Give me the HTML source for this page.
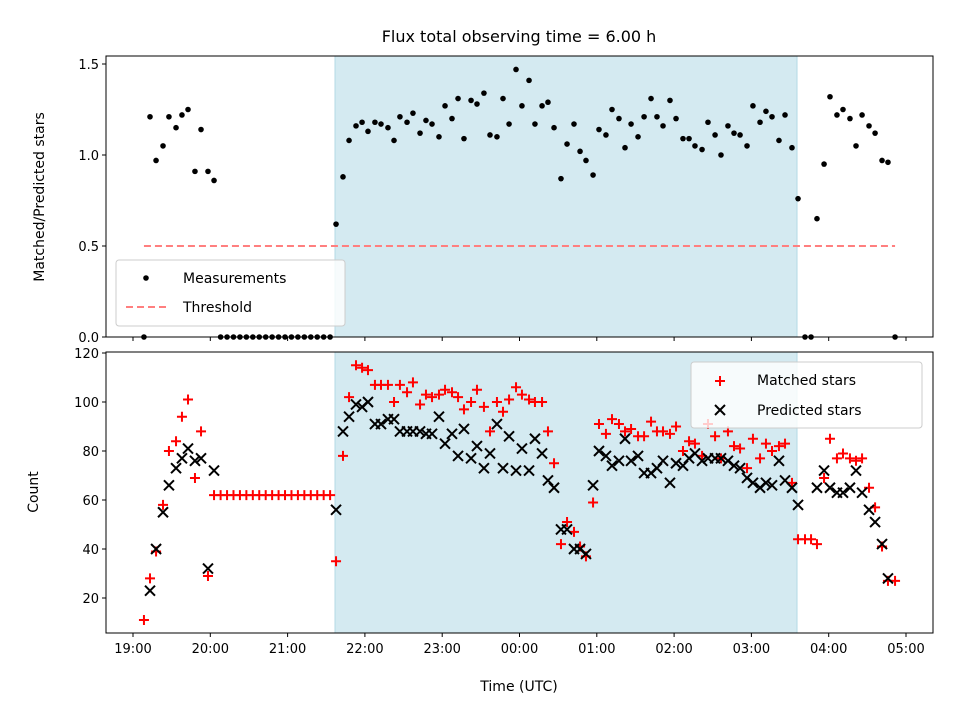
<!DOCTYPE html>
<html><head><meta charset="utf-8"><style>
body{margin:0;background:#fff;}
svg{display:block;font-family:"DejaVu Sans","Liberation Sans",sans-serif;}
</style></head><body>
<svg id="chart" width="960" height="720"></svg>
<script>
const minutes=[8.5,13.2,17.9,23.3,27.9,33.4,38.0,42.7,48.1,52.8,58.2,62.9,
68,73,78,83,88,93,98,103,108,113,118,123,128,133,138,143,148,153,
157.6,163.0,167.7,173.1,177.8,182.4,187.8,192.5,197.9,202.6,207.2,212.7,217.3,222.8,227.4,232.1,237.5,242.2,247.6,252.3,256.9,262.4,267.0,272.4,277.1,282.5,287.2,291.9,297.3,301.9,307.4,312.0,317.5,322.1,326.8,332.2,336.9,342.3,347.0,351.6,357.1,361.7,367.1,371.8,377.2,381.9,386.6,392.0,396.7,402.1,406.7,411.4,416.8,421.5,426.9,431.6,436.2,441.7,446.3,451.8,456.4,461.8,466.5,471.2,476.6,481.2,486.7,491.3,496.0,501.4,506.1,511.5,516.2,521.6,526.3,530.9,536.4,541.0,546.4,551.1,556.5,561.2,565.9,571.3,576.0,581.4,586.0,591.5];
const ratio=[0,1.21,0.97,1.05,1.21,1.15,1.22,1.25,0.91,1.14,0.91,0.86,
0,0,0,0,0,0,0,0,0,0,0,0,0,0,0,0,0,0,
0.62,0.88,1.08,1.16,1.18,1.13,1.18,1.17,1.15,1.08,1.21,1.18,1.23,1.12,1.19,1.17,1.10,1.27,1.20,1.31,1.09,1.30,1.28,1.34,1.11,1.10,1.31,1.17,1.47,1.27,1.41,1.17,1.27,1.29,1.15,0.87,1.06,1.17,1.02,0.97,0.89,1.14,1.11,1.25,1.20,1.04,1.17,1.10,1.21,1.31,1.21,1.16,1.30,1.20,1.09,1.09,1.05,1.03,1.18,1.11,1.00,1.16,1.12,1.11,1.05,1.27,1.18,1.24,1.21,1.08,1.22,1.04,0.76,0,0,0.65,0.95,1.32,1.22,1.25,1.20,1.05,1.22,1.16,1.12,0.97,0.96,0];
const matched=[11,28,39,58,80,84,94,101,69,88,29,62,
62,62,62,62,62,62,62,62,62,62,62,62,62,62,62,62,62,62,
35,78,102,115,114,113,107,107,107,100,107,104,108,99,103,102,103,105,104,102,97,100,105,98,88,100,96,101,106,103,101,100,100,88,75,42,51,47,41,37,59,91,87,93,91,88,89,86,86,92,88,88,87,90,80,84,83,78,91,86,77,88,82,81,73,85,77,83,80,82,83,67,44,44,44,42,69,85,77,79,77,76,77,65,57,41,27,27];
const predicted=[null,23,40,55,66,73,77,81,76,77,32,72,
null,null,null,null,null,null,null,null,null,null,null,null,null,null,null,null,null,null,
56,88,94,99,98,100,91,91,93,93,88,88,88,88,87,87,94,83,87,78,89,77,82,73,79,91,73,86,72,81,72,85,79,68,65,48,48,40,40,38,66,80,78,74,76,85,76,78,71,71,73,76,67,75,74,77,79,76,77,77,77,76,74,73,69,67,65,67,66,76,68,65,58,null,null,65,72,65,63,63,65,72,63,56,51,42,28,null];
const xTickLabels=["19:00","20:00","21:00","22:00","23:00","00:00","01:00","02:00","03:00","04:00","05:00"];
const xTickMinutes=[0,60,120,180,240,300,360,420,480,540,600];
const topTicks=[0,0.5,1.0,1.5];
const topTickLabels=["0.0","0.5","1.0","1.5"];
const botTicks=[20,40,60,80,100,120];
const threshold=[0.5];
const darkWindow=[156.8,515.4];

const NS="http://www.w3.org/2000/svg";
const svg=document.getElementById('chart');
function mk(tag,attrs,parent){const e=document.createElementNS(NS,tag);for(const k in attrs)e.setAttribute(k,attrs[k]);(parent||svg).appendChild(e);return e;}
const L=106,R=933,T1=56,B1=337,T2=352,B2=633;
const X=m=>133+m*77.3/60;
const Y1=v=>337-v*182;
const Y2=v=>598-(v-20)*2.45;

// title
let t=mk('text',{x:519,y:42,'text-anchor':'middle','font-size':16});t.textContent='Flux total observing time = 6.00 h';



function panel(top,bot,name){
  const g=mk('g',{});
  
  
  const sh=mk('rect',{x:X(darkWindow[0]),y:top,width:X(darkWindow[1])-X(darkWindow[0]),height:bot-top,fill:'#d4eaf1',stroke:'#b3d9e5','stroke-width':1},g);
  
  
  return g;
}
const g1=panel(T1,B1,'ratio-panel');
const g2=panel(T2,B2,'count-panel');

// threshold
const th=mk('line',{x1:X(minutes[0]),x2:X(minutes[minutes.length-1]),y1:Y1(threshold[0]),y2:Y1(threshold[0]),stroke:'#ff7f7f','stroke-width':2,'stroke-dasharray':'7,4'},g1);



// measurements
minutes.forEach((m,i)=>{
  const c=mk('circle',{cx:X(m),cy:Y1(ratio[i]),r:2.8,fill:'#000'},g1);
  
  
});
// matched
minutes.forEach((m,i)=>{
  if(matched[i]==null)return;
  const x=X(m),y=Y2(matched[i]);
  const p=mk('path',{d:`M${x-5},${y}H${x+5}M${x},${y-5}V${y+5}`,stroke:'#ff0000','stroke-width':2,fill:'none'},g2);
  
  
});
minutes.forEach((m,i)=>{
  if(predicted[i]==null)return;
  const x=X(m),y=Y2(predicted[i]);
  const p=mk('path',{d:`M${x-5},${y-5}L${x+5},${y+5}M${x-5},${y+5}L${x+5},${y-5}`,stroke:'#000','stroke-width':2,fill:'none'},g2);
  
  
});

// frames
[[T1,B1],[T2,B2]].forEach(([a,b],k)=>{
  const r=mk('rect',{x:L,y:a,width:R-L,height:b-a,fill:'none',stroke:'#000','stroke-width':1});
  
  
});
// x ticks
xTickMinutes.forEach((m,i)=>{
  const x=X(m);
  mk('line',{x1:x,x2:x,y1:B1,y2:B1+4,stroke:'#000'});
  mk('line',{x1:x,x2:x,y1:B2,y2:B2+4,stroke:'#000'});
  const tx=mk('text',{x:x,y:B2+20,'text-anchor':'middle','font-size':13});
  tx.textContent=xTickLabels[i];
  
  
});
topTicks.forEach((v,i)=>{
  const y=Y1(v);
  mk('line',{x1:L-4,x2:L,y1:y,y2:y,stroke:'#000'});
  const tx=mk('text',{x:L-7,y:y+5,'text-anchor':'end','font-size':13});
  tx.textContent=topTickLabels[i];
  
  
});
botTicks.forEach(v=>{
  const y=Y2(v);
  mk('line',{x1:L-4,x2:L,y1:y,y2:y,stroke:'#000'});
  const tx=mk('text',{x:L-7,y:y+5,'text-anchor':'end','font-size':13});
  tx.textContent=String(v);
  
  
});
</script>
<svg width="0" height="0"></svg>
<div style="position:absolute;left:0;top:0;width:960px;height:720px;pointer-events:none;">
<svg width="960" height="720" style="position:absolute;left:0;top:0;font-family:'DejaVu Sans','Liberation Sans',sans-serif;">
  <text x="519" y="691" text-anchor="middle" font-size="14">Time (UTC)</text>
  <text transform="translate(44,197) rotate(-90)" text-anchor="middle" font-size="14">Matched/Predicted stars</text>
  <text transform="translate(38,492) rotate(-90)" text-anchor="middle" font-size="14">Count</text>
  <g>
    <rect x="116" y="260" width="229" height="66" rx="3" fill="#fff" fill-opacity="0.8" stroke="#ccc"/>
    <circle cx="146" cy="278" r="2.8" fill="#000"/>
    <text x="183" y="283" font-size="14">Measurements</text>
    <line x1="126" x2="166" y1="307" y2="307" stroke="#ff7f7f" stroke-width="2" stroke-dasharray="7,4"/>
    <text x="183" y="312" font-size="14">Threshold</text>
  </g>
  <g>
    <rect x="691" y="362" width="231" height="66" rx="3" fill="#fff" fill-opacity="0.8" stroke="#ccc"/>
    <path d="M715,381H725M720,376V386" stroke="#ff0000" stroke-width="2"/>
    <text x="757" y="385" font-size="14">Matched stars</text>
    <path d="M715,405L725,415M715,415L725,405" stroke="#000" stroke-width="2"/>
    <text x="757" y="415" font-size="14">Predicted stars</text>
  </g>
</svg>
</div>
</body></html>
